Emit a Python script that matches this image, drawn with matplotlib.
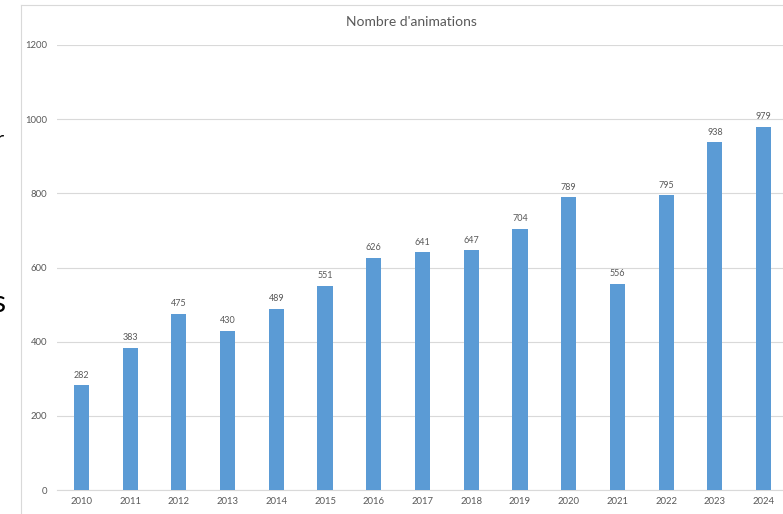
import matplotlib.pyplot as plt
import matplotlib.lines as mlines

annees = ['2010', '2011', '2012', '2013', '2014', '2015', '2016', '2017',
          '2018', '2019', '2020', '2021', '2022', '2023', '2024']
animations = [282, 383, 475, 430, 489, 551, 626, 641, 647, 704, 789, 556, 795, 938, 979]
graduations = [0, 200, 400, 600, 800, 1000, 1200]

plt.rcParams['font.family'] = ['Lato', 'DejaVu Sans']
gris = '#595959'

fig = plt.figure(figsize=(7.83, 5.14), dpi=100)
# axes un peu plus larges que la figure : la capture est coupee a droite
ax = fig.add_axes([57 / 783, 24 / 514, 731 / 783, 445 / 514])

x = range(len(annees))
barres = ax.bar(x, animations, width=0.31, color='#5B9BD5', zorder=3)
for b, v in zip(barres, animations):
    ax.annotate(str(v), (b.get_x() + b.get_width() / 2, v), xytext=(0, 4),
                textcoords='offset points', ha='center', va='bottom',
                fontsize=6.5, color=gris)

ax.set_xlim(-0.5, len(annees) - 0.5)
ax.set_ylim(0, 1200)
ax.set_xticks(list(x))
ax.set_xticklabels(annees)
ax.set_yticks(graduations)
ax.tick_params(axis='both', length=0, labelsize=6.8, labelcolor=gris)
ax.tick_params(axis='y', pad=7)
ax.tick_params(axis='x', pad=5)
ax.grid(axis='y', color='#D9D9D9', linewidth=0.8, zorder=0)
for s in ['top', 'right', 'left']:
    ax.spines[s].set_visible(False)
ax.spines['bottom'].set_color('#D9D9D9')

fig.text(411 / 783, 1 - 22 / 514, "Nombre d'animations", ha='center', va='center',
         fontsize=10, color=gris)

# cadre du graphique
fig.add_artist(mlines.Line2D([21 / 783, 21 / 783], [0, 1 - 5 / 514], color='#D9D9D9', linewidth=0.8))
fig.add_artist(mlines.Line2D([21 / 783, 1], [1 - 5 / 514, 1 - 5 / 514], color='#D9D9D9', linewidth=0.8))

# morceaux de texte coupes a gauche (capture d'ecran)
fig.text(4 / 783, 1 - 140 / 514, 'r', ha='right', va='center', fontsize=16, color='black')
fig.text(5 / 783, 1 - 303 / 514, 's', ha='right', va='center', fontsize=22, color='black')

fig.savefig('out.png', dpi=100)
